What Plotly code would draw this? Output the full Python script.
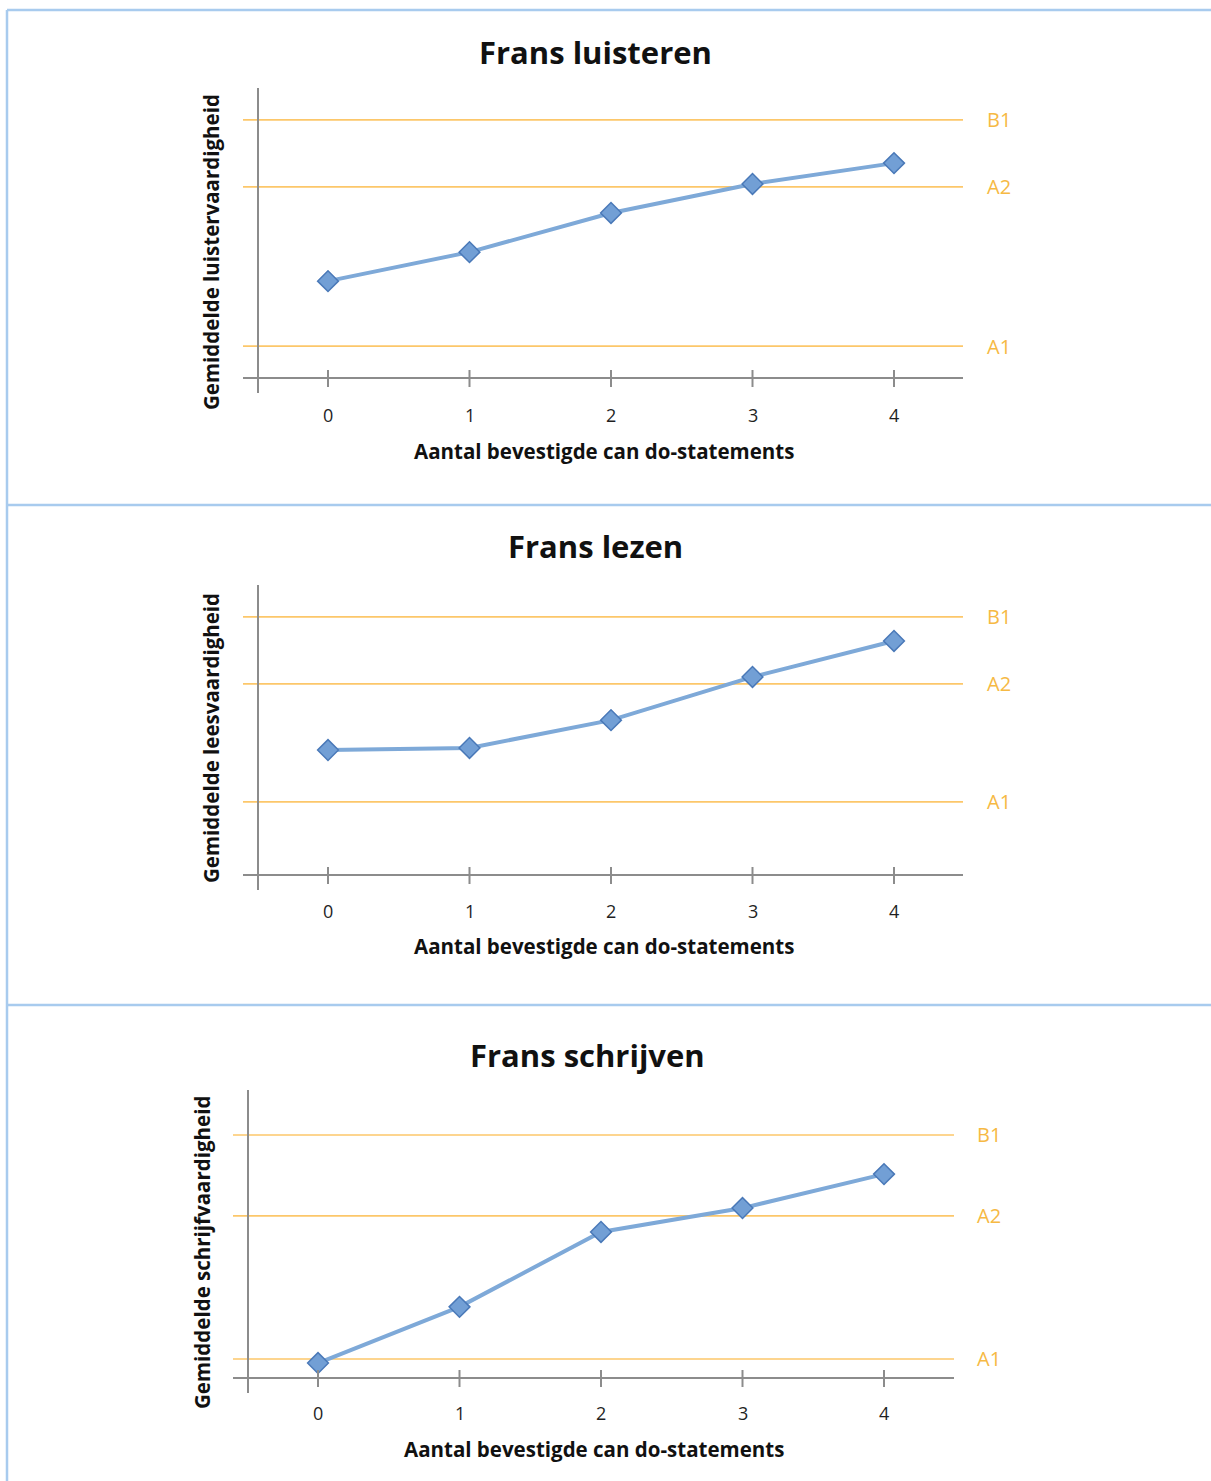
import plotly.graph_objects as go

W, H = 1211, 1481

# ---- data ----
x_cats = [0, 1, 2, 3, 4]
tick_labels = ["0", "1", "2", "3", "4"]
titles = ["Frans luisteren", "Frans lezen", "Frans schrijven"]
y_titles = ["Gemiddelde luistervaardigheid", "Gemiddelde leesvaardigheid",
            "Gemiddelde schrijfvaardigheid"]
x_title = "Aantal bevestigde can do-statements"
level_names = ["B1", "A2", "A1"]

luisteren = [33.4, 43.4, 56.9, 66.9, 74.1]
lezen = [43.1, 43.8, 53.4, 68.3, 80.7]
schrijven = [5.2, 24.7, 50.7, 59.0, 70.8]

levels_luisteren = [89.0, 65.9, 11.0]
levels_lezen = [89.0, 65.9, 25.2]
levels_schrijven = [84.4, 56.3, 6.6]

series = [luisteren, lezen, schrijven]
levels = [levels_luisteren, levels_lezen, levels_schrijven]

# ---- layout geometry (pixels) ----
panels = [
    dict(x0=257.25, x1=964.75, ybot=378, ytop=88, yax=258, xl=243, xr=963,
         ty=52, tx=595, ytx=211, yty=252, xty=451, xtx=604, tly=415, lx=999),
    dict(x0=257.25, x1=964.75, ybot=875, ytop=585, yax=258, xl=243, xr=963,
         ty=546, tx=595, ytx=211, yty=738, xty=946, xtx=604, tly=911, lx=999),
    dict(x0=247.25, x1=954.75, ybot=1378, ytop=1090, yax=248, xl=233, xr=954,
         ty=1055, tx=587, ytx=202, yty=1253, xty=1449, xtx=594, tly=1413, lx=989),
]

def px(v):
    return v / W

def py(v):
    return 1 - v / H

FONT = "Open Sans"
AXIS_COL = "#8c8c8c"
LEVEL_COL = "#fcc76a"
LABEL_COL = "#f6b944"
LINE_COL = "#7ea9d8"
FRAME_COL = "#a8cbee"

fig = go.Figure()
shapes = []
annotations = []

for i, p in enumerate(panels):
    k = "" if i == 0 else str(i + 1)
    xa, ya = "x" + k, "y" + k
    fig.add_trace(go.Scatter(
        x=x_cats, y=series[i], mode="lines+markers", xaxis=xa, yaxis=ya,
        line=dict(color=LINE_COL, width=4),
        marker=dict(symbol="diamond", size=16, color="#729fd5",
                    line=dict(color="#4a79b8", width=1.5)),
        showlegend=False, hoverinfo="skip"))
    fig.update_layout(**{
        "xaxis" + k: dict(domain=[px(p["x0"]), px(p["x1"])], range=[-0.5, 4.5],
                          anchor=ya, visible=False, fixedrange=True),
        "yaxis" + k: dict(domain=[py(p["ybot"]), py(p["ytop"])], range=[0, 100],
                          anchor=xa, visible=False, fixedrange=True),
    })
    # level lines and labels
    for name, lv in zip(level_names, levels[i]):
        shapes.append(dict(type="line", xref="paper", yref=ya,
                           x0=px(p["xl"]), x1=px(p["xr"]), y0=lv, y1=lv,
                           line=dict(color=LEVEL_COL, width=1.6), layer="below"))
        annotations.append(dict(text=name, xref="paper", yref=ya, x=px(p["lx"]), y=lv,
                                showarrow=False, xanchor="center", yanchor="middle",
                                font=dict(family=FONT, size=20, color=LABEL_COL)))
    # axis lines
    shapes.append(dict(type="line", xref="paper", yref="paper",
                       x0=px(p["xl"]), x1=px(p["xr"]), y0=py(p["ybot"]), y1=py(p["ybot"]),
                       line=dict(color=AXIS_COL, width=2)))
    shapes.append(dict(type="line", xref="paper", yref="paper",
                       x0=px(p["yax"]), x1=px(p["yax"]), y0=py(p["ybot"] + 15), y1=py(p["ytop"]),
                       line=dict(color=AXIS_COL, width=2)))
    # x ticks + labels
    for xv, tl in zip(x_cats, tick_labels):
        shapes.append(dict(type="line", xref=xa, yref="paper", x0=xv, x1=xv,
                           y0=py(p["ybot"] - 8), y1=py(p["ybot"] + 9),
                           line=dict(color=AXIS_COL, width=2)))
        annotations.append(dict(text=tl, xref=xa, yref="paper", x=xv, y=py(p["tly"]),
                                showarrow=False, xanchor="center", yanchor="middle",
                                font=dict(family=FONT, size=18, color="#1f1f1f")))
    # titles
    annotations.append(dict(text="<b>" + titles[i] + "</b>", xref="paper", yref="paper",
                            x=px(p["tx"]), y=py(p["ty"]), showarrow=False,
                            xanchor="center", yanchor="middle",
                            font=dict(family=FONT, size=31, color="#111111")))
    annotations.append(dict(text="<b>" + x_title + "</b>", xref="paper", yref="paper",
                            x=px(p["xtx"]), y=py(p["xty"]), showarrow=False,
                            xanchor="center", yanchor="middle",
                            font=dict(family=FONT, size=20.5, color="#111111")))
    annotations.append(dict(text="<b>" + y_titles[i] + "</b>", xref="paper", yref="paper",
                            x=px(p["ytx"]), y=py(p["yty"]), showarrow=False, textangle=-90,
                            xanchor="center", yanchor="middle",
                            font=dict(family=FONT, size=20.5, color="#111111")))

# frame lines
for (a, b, c, d) in [(7, 10, W, 10), (7, 10, 7, H), (7, 505, W, 505), (7, 1005, W, 1005)]:
    shapes.append(dict(type="line", xref="paper", yref="paper",
                       x0=px(a), y0=py(b), x1=px(c), y1=py(d),
                       line=dict(color=FRAME_COL, width=2.5)))

fig.update_layout(width=W, height=H, margin=dict(l=0, r=0, t=0, b=0),
                  paper_bgcolor="white", plot_bgcolor="rgba(0,0,0,0)",
                  shapes=shapes, annotations=annotations)

fig.write_html("out.html", config={"displayModeBar": False},
               post_script="document.body.style.margin='0';document.body.style.padding='0';")
